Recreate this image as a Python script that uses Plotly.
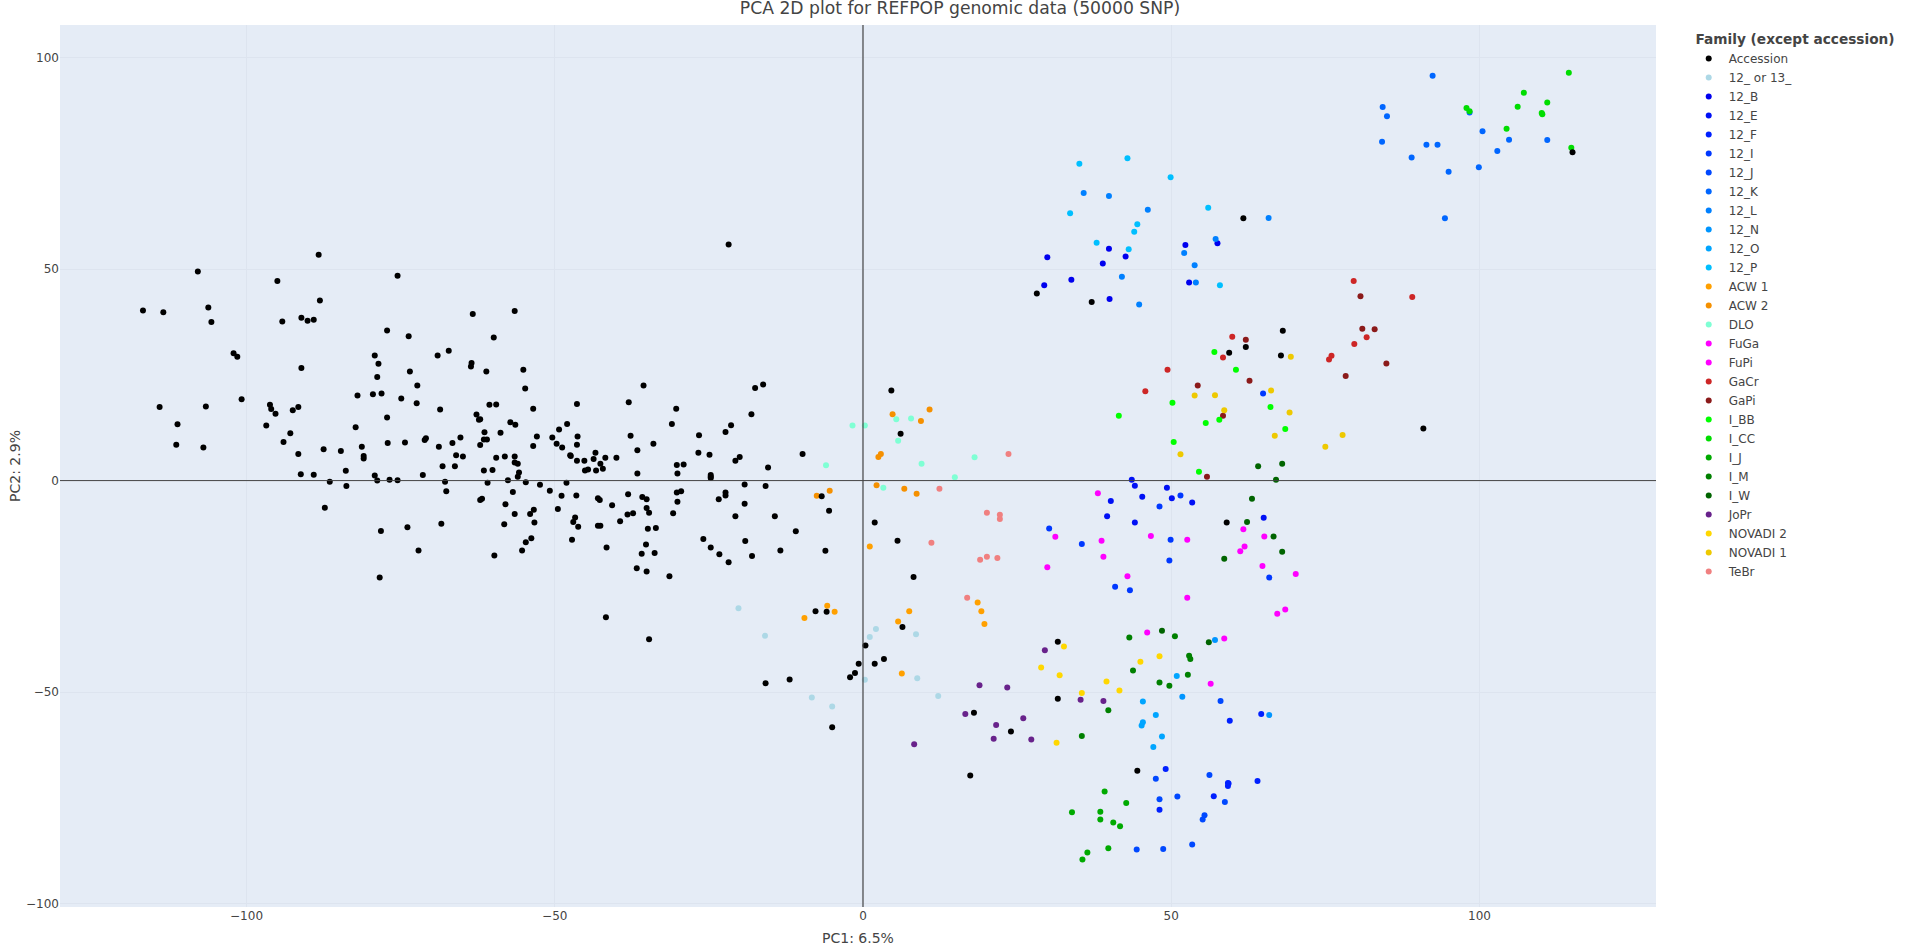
import plotly.graph_objects as go

# Values: (PC1, PC2) for each family
accession = [
(-116.8,40.2),(-113.5,39.8),(-107.9,49.4),(-106.2,40.9),(-105.7,37.5),(-102.1,30.1),(-101.5,29.3),(-100.8,19.2),
(-114.1,17.4),(-106.6,17.5),(-111.2,13.3),(-111.4,8.5),(-107.0,7.8),(-95.0,47.2),(-94.2,37.6),(-91.1,38.5),
(-90.1,37.8),(-89.1,38.0),(-88.3,53.4),(-88.1,42.6),(-91.1,26.6),(-96.2,17.9),(-96.0,16.9),(-95.3,15.8),
(-92.5,16.6),(-91.6,17.4),(-96.8,13.0),(-92.9,11.2),(-94.0,9.1),(-91.6,6.3),(-91.2,1.5),(-89.1,1.4),
(-87.5,7.4),(-84.7,7.0),(-83.9,2.3),(-82.0,20.1),(-82.3,12.6),(-81.3,8.0),(-81.0,5.8),(-81.0,5.2),
(-79.5,20.4),(-78.1,20.6),(-79.2,29.6),(-78.6,27.6),(-78.8,24.5),(-77.2,14.9),(-77.1,8.9),(-74.3,9.0),
(-75.5,48.4),(-77.2,35.5),(-73.7,34.1),(-73.5,25.8),(-72.3,22.5),(-74.9,19.4),(-72.4,18.3),(-79.2,1.2),
(-78.8,0.0),(-76.8,0.2),(-75.5,0.1),(-71.4,1.3),(-71.1,9.6),(-70.9,10.0),(-68.8,8.0),(-68.2,3.4),
(-66.6,8.9),(-66.0,6.0),(-66.2,3.4),(-65.3,10.2),(-64.9,5.7),(-69.0,29.6),(-67.2,30.7),(-68.6,16.8),
(-63.3,39.4),(-63.5,27.8),(-63.6,27.0),(-61.1,25.8),(-59.9,33.8),(-56.5,40.1),(-55.1,26.2),(-54.8,21.8),
(-60.6,17.9),(-59.5,18.0),(-53.5,17.0),(-62.7,15.6),(-62.3,14.4),(-62.1,14.5),(-57.2,13.8),(-56.4,13.2),
(-61.4,11.4),(-58.8,11.3),(-61.5,9.7),(-61.0,9.7),(-62.1,8.4),(-52.9,10.4),(-53.5,8.2),(-50.4,10.2),
(-49.3,12.1),(-48.0,13.4),(-49.7,8.7),(-48.8,7.8),(-46.3,10.4),(-46.4,8.5),(-46.4,18.1),(-47.5,6.0),
(-47.4,5.8),(-46.4,4.7),(-45.2,4.7),(-59.5,5.4),(-58.1,5.7),(-56.5,5.7),(-56.5,4.3),(-56.0,4.0),
(-55.8,1.9),(-56.0,0.9),(-61.5,2.4),(-60.1,2.5),(-57.6,0.1),(-43.4,6.6),(-43.7,5.1),(-42.6,4.0),
(-42.2,2.8),(-45.1,2.4),(-44.6,2.6),(-43.3,2.4),(-41.8,5.4),(-40.0,5.4),(-38.0,18.5),(-37.7,10.6),
(-36.6,7.2),(-36.6,1.7),
(-86.5,-0.3),(-83.8,-1.3),(-87.3,-6.4),(-67.8,-0.3),(-67.6,-2.5),(-62.1,-4.6),(-61.8,-4.3),(-60.9,-0.5),
(-54.7,-0.4),(-52.4,-1.0),(-50.8,-2.4),(-48.9,-3.6),(-48.1,-0.5),(-46.5,-3.5),(-56.8,-2.7),(-58.0,-5.6),
(-56.5,-7.9),(-54.0,-7.9),(-53.4,-6.9),(-53.3,-9.9),(-58.2,-10.3),(-68.4,-10.2),(-73.9,-11.0),(-78.2,-11.9),
(-72.1,-16.5),(-78.4,-22.9),(-59.8,-17.7),(-53.8,-13.6),(-54.7,-14.6),(-55.3,-16.5),(-49.5,-6.7),(-46.7,-8.7),
(-47.0,-9.8),(-46.2,-10.9),(-47.2,-14.0),(-43.0,-4.2),(-42.7,-4.6),(-40.7,-5.8),(-43.0,-10.7),(-42.6,-10.7),
(-41.6,-15.8),(-41.7,-32.3),(-38.1,-3.2),(-38.2,-8.0),(-37.3,-7.7),(-39.4,-9.6),(-36.7,-20.7),
(-21.8,55.8),(-35.6,22.5),(-16.2,22.7),(-17.5,21.9),(-30.3,17.0),(-18.1,15.7),(-31.0,13.4),(-21.4,13.1),
(-22.3,11.5),(-26.6,10.7),(-34.0,8.7),(-26.7,6.6),(-24.9,6.1),(-20.0,5.6),(-20.7,4.7),(-9.8,6.3),
(-30.2,3.7),(-29.1,3.8),(-30.1,1.7),(-15.4,3.1),(-24.7,1.3),(-24.7,0.9),(-24.7,0.6),(4.6,21.3),
(6.1,11.1),(28.2,44.2),(37.1,42.2),(61.7,62.0),(59.4,30.2),(62.1,31.6),(67.8,29.6),(68.1,35.4),
(59.0,-9.9),(90.9,12.3),(115.1,77.6),
(-19.2,-0.9),(-15.8,-1.3),(-29.5,-2.5),(-30.2,-2.8),(-30.1,-5.0),(-22.3,-2.8),(-22.3,-3.5),(-23.4,-4.4),
(-19.2,-5.5),(-35.8,-3.9),(-35.1,-4.4),(-35.1,-6.5),(-34.7,-7.6),(-30.8,-7.7),(-20.7,-8.4),(-14.3,-8.4),
(-5.5,-7.1),(-6.7,-3.7),(1.9,-9.9),(-10.9,-12.0),(-34.9,-11.4),(-33.6,-11.2),(-35.2,-15.1),(-33.8,-17.1),
(-35.9,-17.3),(-25.9,-13.8),(-24.7,-15.8),(-23.3,-17.4),(-21.8,-19.3),(-19.1,-14.3),(-18.0,-17.8),(-13.4,-16.5),
(-6.1,-16.6),(5.6,-14.2),(-35.1,-21.5),(-31.4,-22.6),(8.2,-22.8),(-7.7,-30.9),(-5.9,-31.0),(-34.7,-37.5),
(6.4,-34.6),(0.4,-39.0),(3.4,-42.2),(-0.7,-43.3),(1.9,-43.3),(-1.3,-45.5),(-2.1,-46.5),(-11.9,-47.0),
(-15.8,-47.9),(-5.0,-58.3),(31.6,-38.1),(31.6,-51.6),(18.0,-54.9),(24.0,-59.3),(17.4,-69.7),(44.5,-68.6),
]
fam_12_or_13 = [(-20.2,-30.2),(-15.9,-36.7),(2.1,-35.1),(1.1,-37.0),(8.6,-36.3),(0.3,-47.1),(8.8,-46.7),(12.2,-50.9),(-8.3,-51.3),(-5.0,-53.4)]
fam_12_B = [(29.9,52.8),(33.8,47.5),(29.4,46.2),(39.9,54.8),(42.6,53.0),(38.9,51.3),(52.3,55.7),(57.5,56.1),(52.9,46.8),(40.0,42.9)]
fam_12_E = [(43.6,0.2),(44.1,-1.2),(45.3,-3.8),(49.3,-1.7),(50.1,-4.2),(53.4,-5.2),(40.2,-4.8),(39.6,-8.4),(44.1,-9.9),(65.0,-8.8)]
fam_12_F = [(49.1,-68.2),(59.5,-56.8),(64.6,-55.2),(64.0,-71.0),(59.2,-72.2),(59.3,-71.6),(59.2,-71.5),(56.9,-74.6),(48.1,-77.8)]
fam_12_I = [(65.9,-22.9),(51.5,-3.5),(48.1,-6.1),(30.2,-11.3),(35.5,-15.0),(49.9,-14.0),(49.7,-18.9),(40.9,-25.1),(43.3,-25.9),(64.9,20.6)]
fam_12_J = [(47.5,-70.5),(56.2,-69.6),(58.7,-76.0),(51.0,-74.7),(48.1,-75.3),(55.4,-79.1),(55.1,-80.1),(53.4,-86.0),(44.4,-87.2),(48.7,-87.1),(58.0,-52.1)]
fam_12_K = [(92.4,95.7),(84.3,88.3),(85.0,86.1),(98.4,87.0),(100.5,82.6),(84.2,80.1),(91.4,79.4),(93.2,79.4),(104.8,80.6),(111.0,80.5),(102.9,77.9),(89.0,76.4),(95.0,73.0),(99.9,74.1),(94.4,62.0)]
fam_12_L = [(35.8,68.0),(39.9,67.3),(46.2,64.0),(65.8,62.1),(57.2,57.1),(52.1,53.8),(53.8,50.9),(42.0,48.2),(54.0,46.8),(44.8,41.6)]
fam_12_N = [(57.1,-37.7),(51.8,-51.1),(65.9,-55.4)]
fam_12_O = [(50.9,-46.2),(45.4,-52.2),(47.5,-55.4),(45.4,-57.1),(45.2,-57.9),(48.5,-60.5),(47.1,-63.0)]
fam_12_P = [(35.1,74.9),(42.9,76.2),(49.9,71.7),(33.6,63.2),(56.0,64.5),(44.5,60.6),(44.0,58.8),(37.9,56.2),(43.1,54.7),(57.9,46.2)]
acw_1 = [(-5.8,-29.6),(-4.6,-31.0),(-9.5,-32.5),(18.6,-28.8),(19.2,-30.9),(19.7,-33.9),(6.3,-45.6),(7.5,-30.9),(5.7,-33.3),(1.1,-15.6)]
acw_2 = [(4.8,15.7),(10.8,16.8),(9.4,14.1),(2.9,6.3),(2.5,5.6),(2.2,-1.1),(6.7,-1.9),(8.7,-3.1),(-7.5,-3.6),(-5.4,-2.4)]
dlo = [(-1.7,13.0),(0.3,13.0),(5.4,14.5),(7.8,14.7),(5.7,9.4),(-6.0,3.6),(9.5,4.0),(18.1,5.5),(14.9,0.8),(3.3,-1.7)]
fuga = [(38.1,-3.0),(31.2,-13.3),(38.7,-14.2),(29.9,-20.5),(39.0,-18.0),(42.9,-22.6),(46.1,-35.9),(52.6,-27.7),(58.6,-37.3),(56.4,-48.0),(46.7,-13.1),(52.6,-14.0)]
fupi = [(61.7,-11.5),(65.1,-13.2),(61.9,-15.6),(61.2,-16.7),(64.8,-20.2),(67.2,-31.5),(70.2,-22.1),(68.5,-30.5)]
gacr = [(59.9,34.0),(58.4,29.1),(49.4,26.2),(45.8,21.1),(79.6,47.2),(89.1,43.4),(81.7,33.9),(79.7,32.3),(76.0,29.5),(75.6,28.6)]
gapi = [(62.1,33.3),(54.3,22.5),(62.7,23.6),(58.4,15.3),(55.8,0.9),(80.7,43.6),(81.0,35.9),(83.0,35.8),(84.9,27.7),(78.3,24.7)]
i_bb = [(57.0,30.4),(60.5,26.2),(50.2,18.4),(41.5,15.3),(66.1,17.4),(55.6,13.6),(57.8,14.4),(50.4,9.1),(54.5,2.1),(68.5,12.2)]
i_cc = [(114.5,96.4),(107.2,91.7),(111.0,89.4),(97.9,88.1),(98.4,87.3),(106.2,88.4),(110.1,86.9),(110.2,86.6),(104.4,83.2),(114.9,78.7)]
i_j = [(39.2,-73.5),(42.7,-76.2),(33.9,-78.4),(38.5,-78.3),(38.5,-80.1),(40.6,-80.8),(41.7,-81.7),(39.8,-86.9),(36.4,-87.9),(35.6,-89.6)]
i_m = [(43.2,-37.1),(50.6,-36.8),(52.9,-41.4),(53.1,-42.2),(43.8,-44.9),(52.7,-45.9),(48.1,-47.7),(49.7,-48.5),(39.8,-54.3),(35.5,-60.4)]
i_w = [(64.1,3.4),(67.0,0.2),(68.0,4.0),(63.1,-4.3),(62.3,-9.8),(66.6,-13.2),(58.6,-18.5),(68.0,-16.8),(48.5,-35.5),(56.1,-38.2)]
jopr = [(29.5,-40.1),(18.9,-48.4),(23.4,-48.9),(35.3,-51.8),(39.0,-52.1),(16.6,-55.2),(26.0,-56.2),(21.6,-57.8),(21.2,-61.0),(27.3,-61.2),(8.3,-62.3)]
novadi_2 = [(32.6,-39.2),(48.1,-41.5),(45.0,-42.8),(28.9,-44.2),(31.9,-46.0),(39.5,-47.5),(41.6,-49.6),(35.5,-50.2),(31.4,-62.0)]
novadi_1 = [(66.2,21.3),(53.8,20.1),(57.1,20.2),(58.6,16.6),(66.8,10.6),(51.5,6.2),(69.4,29.3),(69.2,16.1),(77.8,10.8),(75.0,8.0)]
tebr = [(23.6,6.3),(12.4,-1.9),(20.1,-7.6),(22.2,-8.1),(22.2,-9.1),(11.1,-14.7),(19.0,-18.7),(20.1,-18.0),(21.8,-18.3),(16.9,-27.7)]

families = [
    ("12_ or 13_", fam_12_or_13, "#ADD8E6"),
    ("12_B", fam_12_B, "#0000EE"),
    ("12_E", fam_12_E, "#0010F5"),
    ("12_F", fam_12_F, "#0020FF"),
    ("12_I", fam_12_I, "#0038FF"),
    ("12_J", fam_12_J, "#0048FF"),
    ("12_K", fam_12_K, "#0066FF"),
    ("12_L", fam_12_L, "#0080FF"),
    ("12_N", fam_12_N, "#0095FF"),
    ("12_O", fam_12_O, "#00A5FF"),
    ("12_P", fam_12_P, "#00BFFF"),
    ("ACW 1", acw_1, "#FFA000"),
    ("ACW 2", acw_2, "#F59000"),
    ("DLO", dlo, "#7FFFD4"),
    ("FuGa", fuga, "#FF00FF"),
    ("FuPi", fupi, "#FF00FF"),
    ("GaCr", gacr, "#CD2626"),
    ("GaPi", gapi, "#8B1A1A"),
    ("I_BB", i_bb, "#00FF00"),
    ("I_CC", i_cc, "#00DD00"),
    ("I_J", i_j, "#00AA00"),
    ("I_M", i_m, "#008000"),
    ("I_W", i_w, "#006400"),
    ("JoPr", jopr, "#68228B"),
    ("NOVADI 2", novadi_2, "#FFD700"),
    ("NOVADI 1", novadi_1, "#EEC900"),
    ("TeBr", tebr, "#F08080"),
]

FONT = "DejaVu Sans"
fig = go.Figure()
for name, pts, color in families:
    fig.add_trace(go.Scatter(x=[p[0] for p in pts], y=[p[1] for p in pts], mode="markers", name=name,
                             marker=dict(color=color, size=6)))
fig.add_trace(go.Scatter(x=[p[0] for p in accession], y=[p[1] for p in accession], mode="markers",
                         name="Accession", legendrank=1, marker=dict(color="#000000", size=6)))

fig.add_hline(y=0, line=dict(color="#444444", width=1))
fig.add_vline(x=0, line=dict(color="rgba(68,68,68,0.6)", width=2))

GRID = "#DDE4EF"
fig.update_layout(
    width=1920,
    height=947,
    font=dict(family=FONT, size=12, color="#444444"),
    title=dict(text="PCA 2D plot for REFPOP genomic data (50000 SNP)", x=0.5, xanchor="center",
               y=0.9915, yanchor="middle", font=dict(family=FONT, size=17.2, color="#444444"), pad=dict(t=0, b=0)),
    plot_bgcolor="#E5ECF6",
    paper_bgcolor="#FFFFFF",
    margin=dict(l=60, r=264, t=25, b=40, autoexpand=False),
    legend=dict(title=dict(text="<b>&nbsp;Family (except accession)</b>",
                           font=dict(family=FONT, size=13.7, color="#444444")),
                x=1.0205, y=0.9986, xanchor="left", yanchor="top"),
    xaxis=dict(title=dict(text="PC1: 6.5%", standoff=11), range=[-130.26, 128.64], dtick=50, gridcolor=GRID,
               zeroline=False, showline=False, ticks="", automargin=False),
    yaxis=dict(title=dict(text="PC2: 2.9%", standoff=2), range=[-100.8, 107.7], dtick=50, gridcolor=GRID,
               zeroline=False, showline=False, ticks="", automargin=False),
)
fig.write_html("out.html", config={"displayModeBar": False},
               post_script="document.body.style.margin='0';document.documentElement.style.overflow='hidden';")
